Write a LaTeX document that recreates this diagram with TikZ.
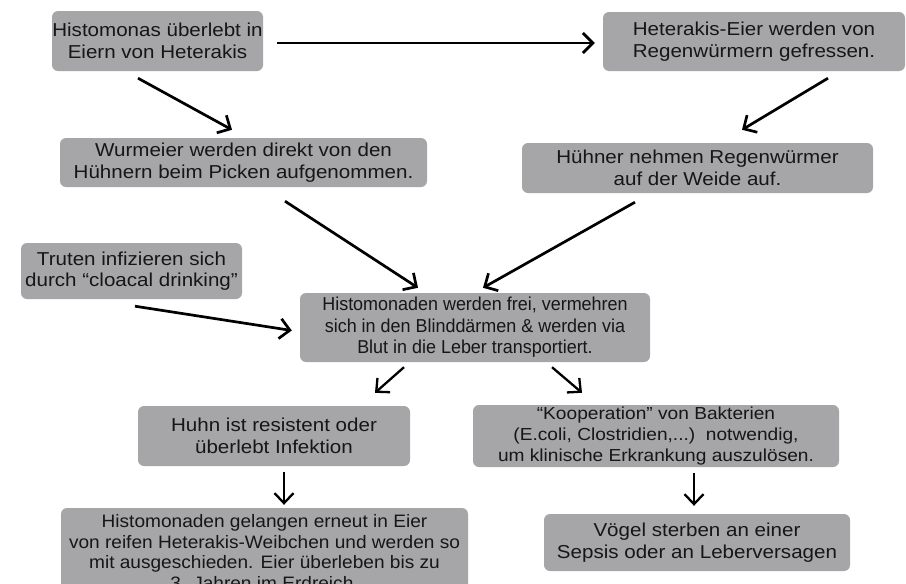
\documentclass[tikz,border=0pt]{standalone}
\usepackage{fontspec}
\setmainfont[FakeStretch=1.1]{Liberation Sans}
\newfontfamily\narrowfont[FakeStretch=0.96]{Liberation Sans}
\newfontfamily\semifont[FakeStretch=1.06]{Liberation Sans}
\usetikzlibrary{arrows.meta}
\definecolor{boxgray}{RGB}{166,166,169}
\definecolor{txt}{RGB}{22,22,22}
\tikzset{
  box/.style={fill=boxgray, rounded corners=6pt, inner sep=0pt, align=center,
    text=txt, font=\fontsize{18.7pt}{21.5pt}\selectfont},
  smallbox/.style={box, font=\fontsize{17.4pt}{21pt}\selectfont},
  midbox/.style={box, font=\narrowfont\fontsize{18.7pt}{21.5pt}\selectfont},
  lowbox/.style={box, font=\semifont\fontsize{18pt}{20.7pt}\selectfont},
  arr/.style={-{Straight Barb[length=10pt,width=20pt]}, line width=2.7pt, black},
  sarr/.style={-{Straight Barb[length=10pt,width=19pt]}, line width=2.3pt, black}
}
\begin{document}
\begin{tikzpicture}[x=1pt,y=-1pt]
\useasboundingbox (0,0) rectangle (906,584);
\clip (0,0) rectangle (906,584);
\fill[white] (0,0) rectangle (906,584);
\node[box, minimum width=211pt, minimum height=60pt] (b1) at (157.5,41) {Histomonas überlebt in\\Eiern von Heterakis};
\node[box, minimum width=302pt, minimum height=59pt] (b2) at (754,41.5) {Heterakis-Eier werden von\\Regenwürmern gefressen.};
\node[box, minimum width=367pt, minimum height=49pt] (b3) at (243.5,162.5) {Wurmeier werden direkt von den\\Hühnern beim Picken aufgenommen.};
\node[box, minimum width=351pt, minimum height=50pt] (b4) at (697.5,168) {Hühner nehmen Regenwürmer\\auf der Weide auf.};
\node[box, minimum width=221pt, minimum height=56pt] (b5) at (131.5,271) {Truten infizieren sich\\durch “cloacal drinking”};
\node[midbox, minimum width=350pt, minimum height=69pt] (b6) at (475,327.5) {Histomonaden werden frei, vermehren\\sich in den Blinddärmen \& werden via\\Blut in die Leber transportiert.};
\node[box, minimum width=272pt, minimum height=60pt] (b7) at (274,436) {Huhn ist resistent oder\\überlebt Infektion};
\node[smallbox, minimum width=366pt, minimum height=62pt] (b8) at (656,436) {“Kooperation” von Bakterien\\(E.coli, Clostridien,...)~~notwendig,\\um klinische Erkrankung auszulösen.};
\node[lowbox, minimum width=407pt, minimum height=88pt] (b9) at (264.5,552) {Histomonaden gelangen erneut in Eier\\von reifen Heterakis-Weibchen und werden so\\mit ausgeschieden. Eier überleben bis zu\\3. Jahren im Erdreich.};
\node[box, minimum width=306pt, minimum height=57pt] (b10) at (697,542.5) {Vögel sterben an einer\\Sepsis oder an Leberversagen};

\draw[arr] ([shift={(14,2)}]b1.east) -- ([shift={(-8,1.5)}]b2.west);
\draw[arr] ([shift={(-19.5,7)}]b1.south) -- ([shift={(-11.5,-8)}]b3.north);
\draw[arr] ([shift={(74,7)}]b2.south) -- ([shift={(44.5,-13)}]b4.north);
\draw[arr] ([shift={(41.5,14)}]b3.south) -- ([shift={(-57,-5)}]b6.north);
\draw[arr] ([shift={(-62.5,9)}]b4.south) -- ([shift={(8,-5)}]b6.north);
\draw[arr] ([shift={(3.5,7)}]b5.south) -- ([shift={(-8,3)}]b6.west);
\draw[sarr] ([shift={(-71,5)}]b6.south) -- ([shift={(101,-13)}]b7.north);
\draw[sarr] ([shift={(77,5)}]b6.south) -- ([shift={(-74,-12)}]b8.north);
\draw[sarr] ([shift={(10,6)}]b7.south) -- ([shift={(19.5,-3)}]b9.north);
\draw[sarr] ([shift={(38,6)}]b8.south) -- ([shift={(-3,-8)}]b10.north);
\end{tikzpicture}
\end{document}
